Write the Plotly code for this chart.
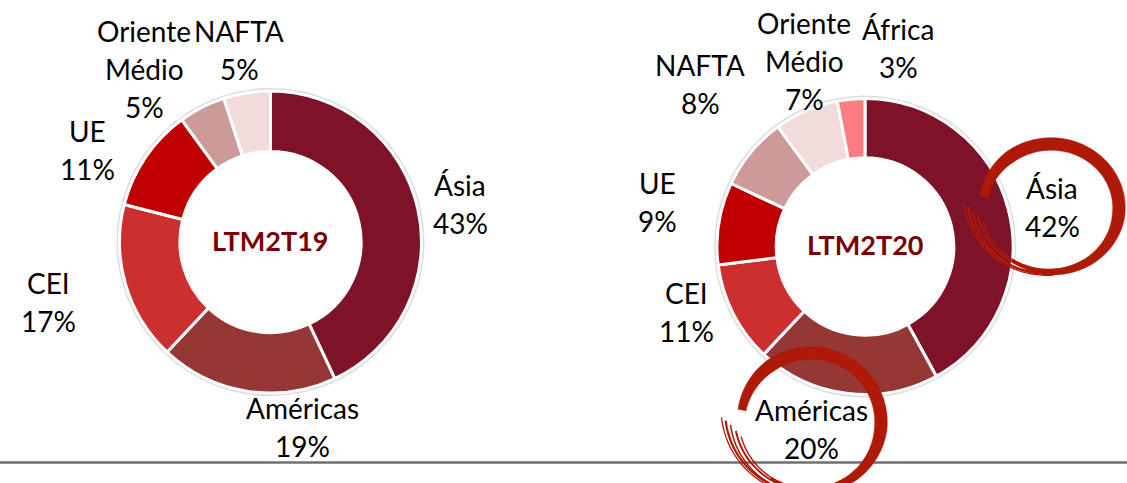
import numpy as np
import plotly.graph_objects as go

W, H = 1127, 483

# ---------------- data ----------------
cats_19 = ["Ásia", "Américas", "CEI", "UE", "Oriente Médio", "NAFTA"]
vals_19 = [43, 19, 17, 11, 5, 5]
cats_20 = ["Ásia", "Américas", "CEI", "UE", "NAFTA", "Oriente Médio", "África"]
vals_20 = [42, 20, 11, 9, 8, 7, 3]
title_19 = "LTM2T19"
title_20 = "LTM2T20"

# ---------------- styles ----------------
colors_19 = ["#7D1229", "#953735", "#CC2F2F", "#C00000", "#CD9A9A", "#F2DCDB"]
colors_20 = ["#7D1229", "#953735", "#CC2F2F", "#C00000", "#CD9A9A", "#F2DCDB", "#FF7C80"]
FONT = "Lato"
LABEL_SIZE = 28
LINE_GAP = 38

# label anchor positions (pixels: center x, first-line center y)
label_pos_19 = [(460, 185), (302, 408), (48, 283), (87, 131), (144, 31), (239, 31)]
label_pos_20 = [(1052, 188), (811, 410), (686, 293), (657, 183), (700, 65), (804, 23), (898, 29)]

# donut geometry in pixels (center x, center y, radius)
geo_19 = (270.5, 242, 151)
geo_20 = (865, 246.5, 148)


def px(x):
    return x / W


def py(y):
    return 1 - y / H


def domain(geo):
    cx, cy, r = geo
    return dict(x=[px(cx - r), px(cx + r)], y=[py(cy + r), py(cy - r)])


fig = go.Figure()
for cats, vals, cols, geo in [(cats_19, vals_19, colors_19, geo_19),
                              (cats_20, vals_20, colors_20, geo_20)]:
    fig.add_trace(go.Pie(
        labels=cats, values=vals, hole=0.6, sort=False, direction="clockwise",
        rotation=0, marker=dict(colors=cols, line=dict(color="white", width=3)),
        textinfo="none", hoverinfo="label+percent", showlegend=False,
        domain=domain(geo),
    ))

annotations = []
for cats, vals, pos in [(cats_19, vals_19, label_pos_19), (cats_20, vals_20, label_pos_20)]:
    for c, v, (x, y) in zip(cats, vals, pos):
        lines = c.split(" ") + [f"{v}%"]
        for i, ln in enumerate(lines):
            annotations.append(dict(
                x=px(x), y=py(y + i * LINE_GAP), xref="paper", yref="paper",
                text=ln, showarrow=False, xanchor="center", yanchor="middle",
                font=dict(family=FONT, size=LABEL_SIZE, color="#000000"),
            ))

for t, geo in [(title_19, geo_19), (title_20, geo_20)]:
    cx, cy, r = geo
    annotations.append(dict(
        x=px(cx), y=py(cy - 2), xref="paper", yref="paper", text=f"<b>{t}</b>",
        showarrow=False, xanchor="center", yanchor="middle",
        font=dict(family=FONT, size=27, color="#780000"),
    ))

shapes = []
# faint shadow ring around each donut
for cx, cy, r in (geo_19, geo_20):
    shapes.append(dict(type="circle", xref="paper", yref="paper",
                       x0=px(cx - r - 1.5), x1=px(cx + r + 1.5),
                       y0=py(cy + r + 1.5), y1=py(cy - r - 1.5),
                       line=dict(color="rgba(120,120,120,0.25)", width=3), layer="below"))
# bottom rule
shapes.append(dict(type="line", xref="paper", yref="paper", x0=0, x1=1,
                   y0=py(462.5), y1=py(462.5), line=dict(color="#707070", width=2.5),
                   layer="above"))

SW = "#AE1908"


def path_from(xs, ys, close=False):
    s = "M " + " L ".join(f"{px(a):.5f},{py(b):.5f}" for a, b in zip(xs, ys))
    return s + (" Z" if close else "")


def brush(cx, cy, rx, ry):
    out = []
    phi = np.radians(np.linspace(190, 485, 180))
    t = (phi - phi[0]) / (phi[-1] - phi[0])
    w = 12.5 * np.minimum(1.0, 0.65 + 0.35 * t / 0.15)
    w = w * np.where(t > 0.6, 1 - 0.8 * (t - 0.6) / 0.4, 1.0)
    c, s = np.cos(phi), np.sin(phi)
    xo, yo = cx + (rx + w / 2) * c, cy + (ry + w / 2) * s
    xi, yi = cx + (rx - w / 2) * c, cy + (ry - w / 2) * s
    xs = np.concatenate([xo, xi[::-1]])
    ys = np.concatenate([yo, yi[::-1]])
    out.append(dict(type="path", xref="paper", yref="paper", path=path_from(xs, ys, True),
                    fillcolor=SW, line=dict(color=SW, width=0.5), layer="above"))
    strands = [(430, 541, 1.00, 1.22, 2.2), (440, 538, 1.03, 1.15, 1.5),
               (425, 533, 0.97, 1.08, 2.0), (448, 543, 1.05, 1.28, 1.3),
               (420, 528, 0.95, 1.02, 1.4)]
    for a0, a1, f0, f1, lw in strands:
        ph = np.radians(np.linspace(a0, a1, 80))
        u = (ph - ph[0]) / (ph[-1] - ph[0])
        f = f0 + (f1 - f0) * u ** 1.5
        xs = cx + rx * f * np.cos(ph)
        ys = cy + ry * f * np.sin(ph)
        out.append(dict(type="path", xref="paper", yref="paper", path=path_from(xs, ys),
                        line=dict(color=SW, width=lw), layer="above"))
    return out


shapes += brush(1051, 208, 68, 64)
shapes += brush(811, 422, 70, 69)

fig.update_layout(
    width=W, height=H, margin=dict(l=0, r=0, t=0, b=0),
    paper_bgcolor="white", plot_bgcolor="white",
    annotations=annotations, shapes=shapes,
    font=dict(family=FONT),
)

fig.write_html("out.html", config={"displayModeBar": False},
               post_script="document.body.style.margin='0px';")
